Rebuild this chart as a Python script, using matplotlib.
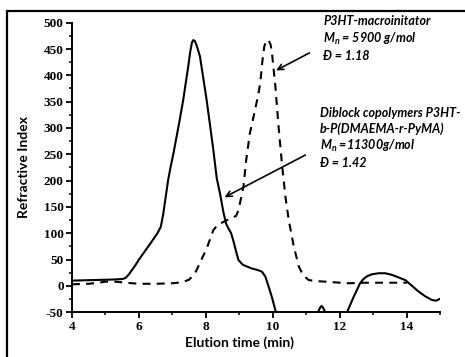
"""GPC traces: P3HT macroinitiator vs diblock copolymer (RI detector)."""
import matplotlib
matplotlib.use('Agg')
import matplotlib.pyplot as plt
from matplotlib.ticker import MultipleLocator
from matplotlib.patches import Rectangle

# diblock copolymer (solid)
t_block = [4.0, 4.6, 5.2, 5.5, 5.6, 5.7, 5.8, 5.9, 6.0, 6.2, 6.4, 6.55, 6.65,
           6.72, 6.8, 6.87, 6.95, 7.03, 7.2, 7.32, 7.47, 7.53, 7.58, 7.62, 7.67,
           7.73, 7.82, 8.02, 8.22, 8.32, 8.42, 8.52, 8.6, 8.68, 8.75, 8.82, 8.9,
           8.97, 9.1, 9.37, 9.55, 9.67, 9.77, 9.87, 9.97, 10.07, 10.15, 10.5,
           11.2, 11.33, 11.4, 11.45, 11.5, 11.57, 11.7, 12.0, 12.21, 12.4, 12.6,
           12.7, 12.8, 12.95, 13.15, 13.35, 13.55, 13.75, 13.95, 14.15, 14.35,
           14.55, 14.75, 14.88, 15.0]
ri_block = [10, 11, 12, 13, 15, 22, 31, 40, 50, 68, 86, 100, 112,
            135, 170, 201, 228, 252, 310, 353, 417, 445, 462, 467, 465,
            455, 436, 353, 258, 205, 175, 140, 118, 108, 100, 85, 65,
            49, 40, 33, 30, 27, 18, -1.5, -22, -46, -65, -100,
            -80, -52, -42, -38, -42, -52, -80, -90, -50, -22, 5,
            13, 18, 22, 24, 24, 21, 16, 11, 0, -11,
            -20, -27, -28, -24]

# macroinitiator (dashed)
t_macro = [4.0, 4.5, 4.8, 5.0, 5.3, 5.6, 6.0, 6.5, 7.0, 7.3, 7.5, 7.65, 7.72,
           7.85, 8.02, 8.22, 8.35, 8.6, 8.9, 8.97, 9.12, 9.2, 9.31, 9.45, 9.55,
           9.62, 9.68, 9.74, 9.8, 9.87, 9.93, 9.97, 10.07, 10.17, 10.27, 10.37,
           10.47, 10.62, 10.77, 10.9, 11.07, 11.3, 11.57, 12.0, 12.26, 12.76,
           13.5, 14.0]
ri_macro = [3, 4, 6, 8, 8, 6, 4, 4, 5, 7, 12, 22, 30,
            48, 71, 106, 116, 124, 133, 144, 189, 239, 290, 330, 360,
            385, 425, 455, 466, 467, 458, 442, 380, 300, 230, 170,
            125, 75, 37, 20, 11, 9, 8, 6, 5, 6,
            6, 6]

sans = 'Lato'
plt.rcParams['font.family'] = 'Liberation Serif'
plt.rcParams['font.weight'] = 'bold'
plt.rcParams['axes.unicode_minus'] = False
plt.rcParams['mathtext.fontset'] = 'custom'
plt.rcParams['mathtext.rm'] = 'Lato:italic:bold'
plt.rcParams['mathtext.it'] = 'Lato:italic:bold'

fig = plt.figure(figsize=(4.65, 3.57), dpi=100)
ax = fig.add_axes([0.1548, 0.1255, 0.7925, 0.8109])

ax.plot(t_block, ri_block, color='black', lw=1.5, solid_joinstyle='round')
ln, = ax.plot(t_macro, ri_macro, color='black', lw=1.5, ls='--')
ln.set_dashes([3.8, 3.0])

ax.set_xlim(4, 15)
ax.set_ylim(-50, 500)
ax.xaxis.set_major_locator(MultipleLocator(2))
ax.xaxis.set_minor_locator(MultipleLocator(1))
ax.yaxis.set_major_locator(MultipleLocator(50))
ax.yaxis.set_minor_locator(MultipleLocator(25))
for s in ['top', 'right']:
    ax.spines[s].set_visible(False)
for s in ['left', 'bottom']:
    ax.spines[s].set_linewidth(1.4)
ax.tick_params(which='major', direction='out', length=4, width=1.3, pad=2,
               labelsize=9.5)
ax.tick_params(which='minor', direction='out', length=2.5, width=1.1)

ax.set_xlabel('Elution time (min)', fontfamily=sans, fontweight='bold',
              fontsize=10)
ax.xaxis.set_label_coords(0.455, -0.085)
ax.set_ylabel('Refractive Index', fontfamily=sans, fontweight='bold',
              fontsize=10)
ax.yaxis.set_label_coords(-0.115, 0.5)

txt = dict(fontfamily=sans, fontweight='bold', fontstyle='italic', fontsize=9,
           va='top', ha='left', linespacing=1.3)
ax.text(11.5, 514, 'P3HT-macroinitator\nM$_\\mathrm{n}$ = 5900 g/mol\nĐ = 1.18', **txt)
ax.text(11.4, 340, 'Diblock copolymers P3HT-\nb-P(DMAEMA-r-PyMA)\n'
        'M$_\\mathrm{n}$ =11300g/mol\nĐ = 1.42', **txt)

arr = dict(arrowstyle='->', color='black', lw=1.2, mutation_scale=10)
ax.annotate('', xy=(10.02, 407), xytext=(11.16, 445), arrowprops=arr)
ax.annotate('', xy=(8.48, 166), xytext=(11.04, 251), arrowprops=arr)

fig.patches.append(Rectangle((7.3 / 465, -0.2), 2, 1.2 - 11 / 357, fill=False,
                             lw=1.6, ec='black', transform=fig.transFigure))

fig.savefig('out.png', dpi=100)
